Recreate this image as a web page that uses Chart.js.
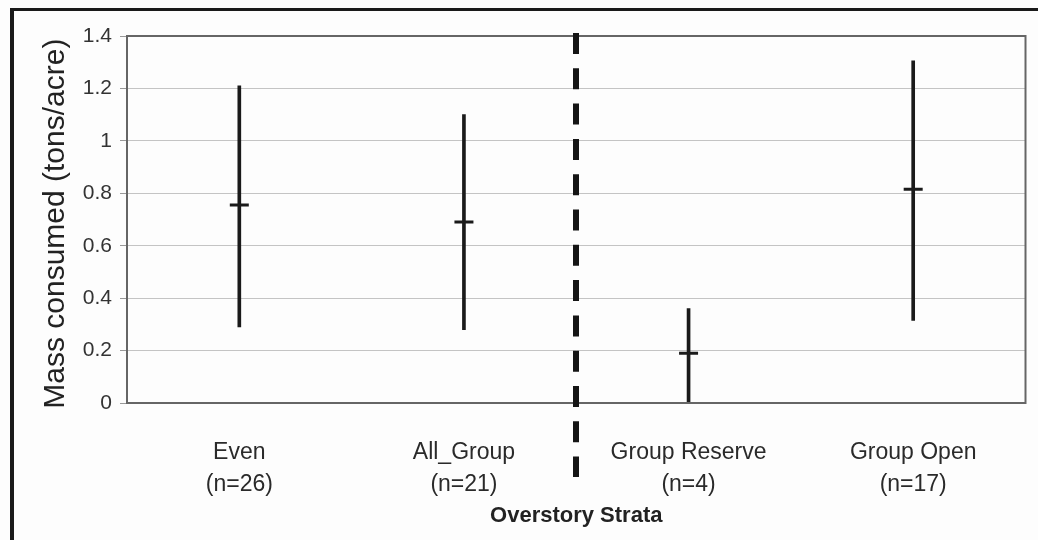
<!DOCTYPE html>
<html>
<head>
<meta charset="utf-8">
<script src="https://cdn.jsdelivr.net/npm/chart.js@4.4.1/dist/chart.umd.min.js"></script>
<style>
  body { margin: 0; background: #fdfdfd; }
  #wrap { position: relative; width: 1038px; height: 540px; overflow: hidden; }
  #frame { position: absolute; left: 10px; top: 8px; width: 1100px; height: 600px;
           border-top: 3px solid #1a1a1a; border-left: 4px solid #1a1a1a; }
  canvas { position: absolute; left: 0; top: 0; }
</style>
</head>
<body>
<div id="wrap">
  <div id="frame"></div>
  <canvas id="myChart" width="1038" height="540"></canvas>
</div>
<script>
// values
const categories = [['Even', '(n=26)'], ['All_Group', '(n=21)'], ['Group Reserve', '(n=4)'], ['Group Open', '(n=17)']];
const means = [0.755, 0.69, 0.19, 0.815];
const lows = [0.29, 0.28, 0.0, 0.315];
const highs = [1.21, 1.10, 0.36, 1.305];

const fontFamily = "'Liberation Sans', Arial, sans-serif";

// plot frame + dashed divider between the two strata groups
const extras = {
    id: 'extras',
    afterDatasetsDraw(chart) {
        const { ctx, chartArea, scales } = chart;
        ctx.save();
        ctx.strokeStyle = '#666';
        ctx.lineWidth = 2;
        ctx.strokeRect(chartArea.left, chartArea.top, chartArea.right - chartArea.left, chartArea.bottom - chartArea.top);

        const x = Math.round(scales.x.getPixelForValue(1.5));
        ctx.strokeStyle = '#151515';
        ctx.lineWidth = 6;
        ctx.setLineDash([21, 14.3]);
        ctx.beginPath();
        ctx.moveTo(x, chartArea.top - 3);
        ctx.lineTo(x, chartArea.bottom + 74);
        ctx.stroke();
        ctx.restore();
    }
};

const ctx = document.getElementById('myChart').getContext('2d');
new Chart(ctx, {
    type: 'bar',
    data: {
        labels: categories,
        datasets: [{
            type: 'line',
            data: means,
            showLine: false,
            pointStyle: 'line',
            pointRadius: 9.5,
            pointBorderWidth: 3,
            borderColor: '#1a1a1a',
            backgroundColor: '#1a1a1a',
        }, {
            type: 'bar',
            data: lows.map((l, i) => [l, highs[i]]),
            barThickness: 3,
            backgroundColor: '#1a1a1a',
            borderWidth: 0,
        }]
    },
    options: {
        responsive: false,
        animation: false,
        layout: { padding: { top: 36, right: 9, left: 0, bottom: 0 } },
        plugins: {
            legend: { display: false },
            tooltip: { enabled: false },
        },
        scales: {
            x: {
                offset: true,
                grid: { display: false },
                border: { color: '#666', width: 2 },
                ticks: {
                    color: '#2a2a2a',
                    padding: 26,
                    maxRotation: 0,
                    font: { family: fontFamily, size: 23, lineHeight: 1.39 },
                },
                title: {
                    display: true,
                    text: 'Overstory Strata',
                    color: '#222',
                    padding: { top: 0, bottom: 11 },
                    font: { family: fontFamily, size: 22, weight: 'bold', lineHeight: 1.2 },
                },
                afterFit(scale) {
                    scale.height = 137;
                    scale.paddingLeft = 0;
                    scale.paddingRight = 0;
                },
            },
            y: {
                min: 0,
                max: 1.4,
                grid: { color: '#c4c4c4', lineWidth: 1, tickLength: 7, tickColor: '#999' },
                border: { color: '#666', width: 2 },
                ticks: {
                    stepSize: 0.2,
                    color: '#333',
                    padding: 8,
                    font: { family: fontFamily, size: 21 },
                    callback: (v) => String(Number(v.toFixed(2))),
                },
                title: {
                    display: true,
                    text: 'Mass consumed (tons/acre) ',
                    color: '#222',
                    padding: { top: 38, bottom: 0 },
                    font: { family: fontFamily, size: 30, lineHeight: 1.2 },
                },
                afterFit(scale) {
                    scale.width = 127;
                    scale.paddingTop = 0;
                    scale.paddingBottom = 0;
                },
            }
        }
    },
    plugins: [extras],
});
</script>
</body>
</html>
